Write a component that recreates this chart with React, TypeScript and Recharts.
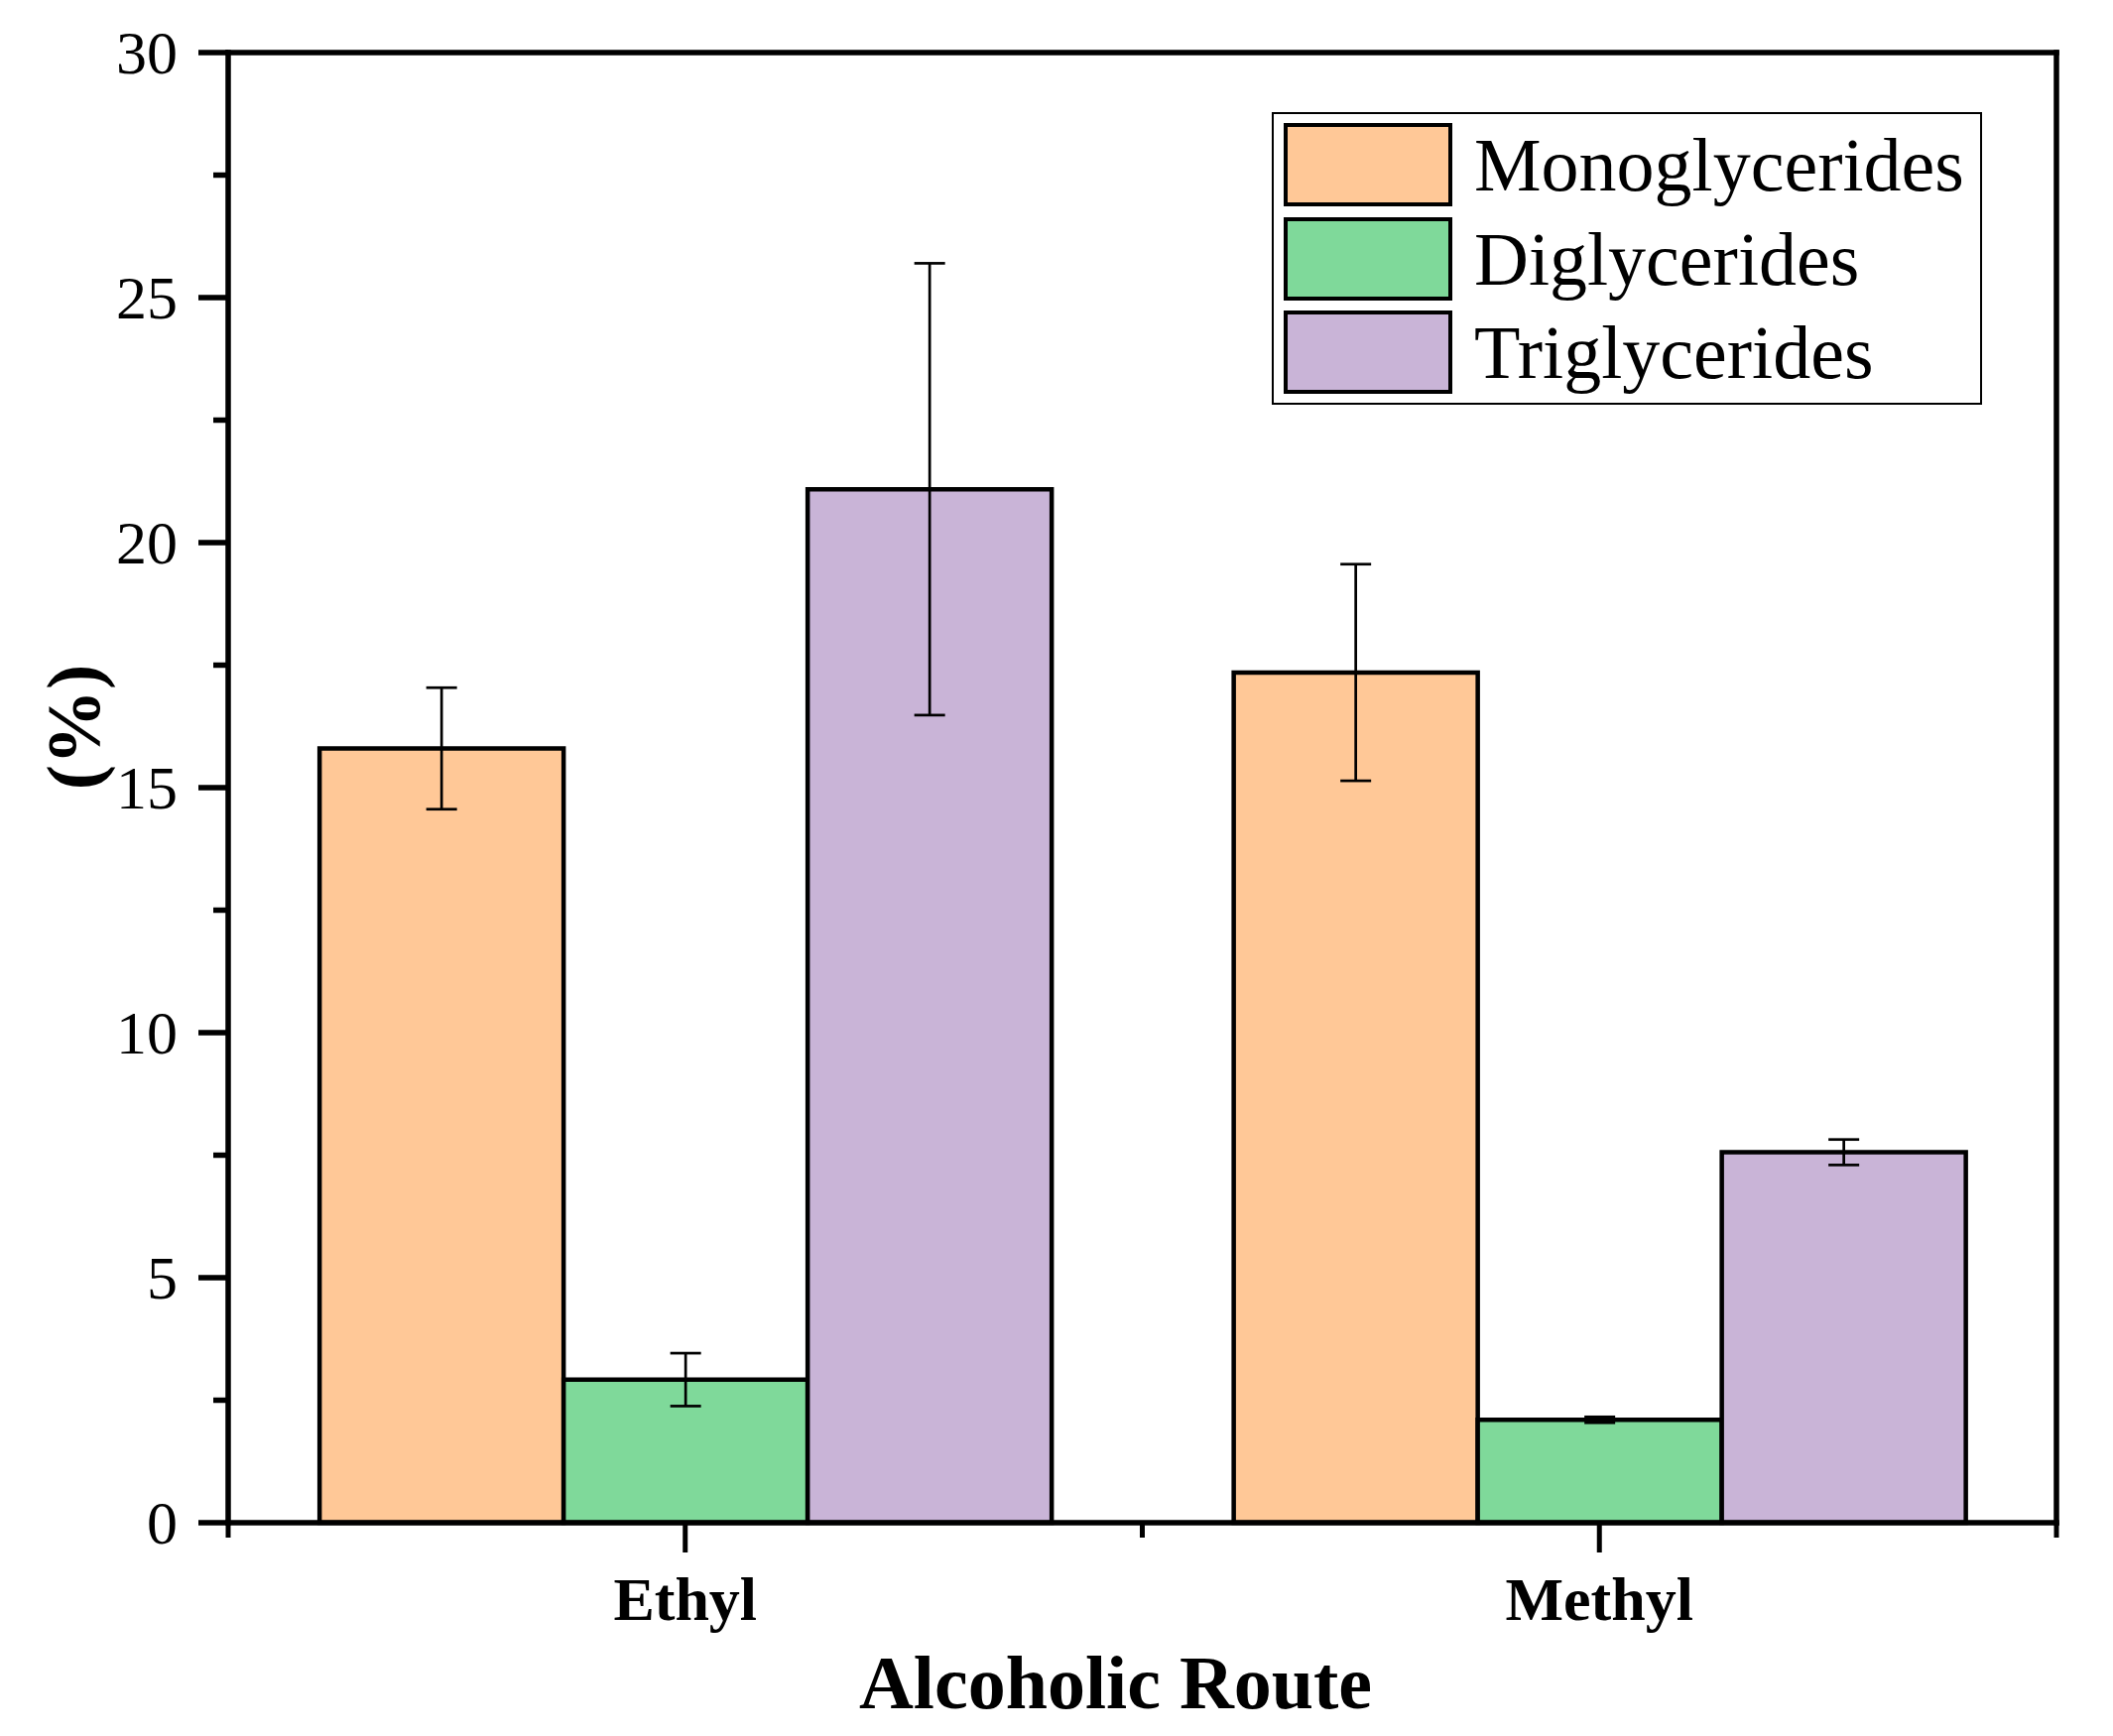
import React from 'react'
import { BarChart, Bar, XAxis, YAxis, ErrorBar, Legend } from 'recharts'

// values (percent)
const routes = ['Ethyl', 'Methyl']
const seriesNames = ['Monoglycerides', 'Diglycerides', 'Triglycerides']
const mono = [15.8, 17.35]
const monoErr = [1.24, 2.21]
const di = [2.92, 2.1]
const diErr = [0.54, 0.06]
const tri = [21.09, 7.56]
const triErr = [4.61, 0.26]

const leftTicks = [0, 2.5, 5, 7.5, 10, 12.5, 15, 17.5, 20, 22.5, 25, 27.5, 30]
const rightTicks = [0, 3, 6, 9, 12, 15, 18, 21, 24, 27, 30]

const FONT = '"Liberation Serif", "Times New Roman", Times, serif'
const AXIS = { stroke: '#000', strokeWidth: 5.5, strokeLinecap: 'square' as const }

const data = routes.map((route, i) => ({
  route,
  mono: mono[i],
  monoErr: monoErr[i],
  di: di[i],
  diErr: diErr[i],
  tri: tri[i],
  triErr: triErr[i],
}))

function XTick(props: any) {
  const { x, y, payload } = props
  const half = payload && payload.offset ? payload.offset : 0
  return (
    <g>
      <line x1={x} x2={x} y1={y} y2={y + 30} stroke="#000" strokeWidth={5} />
      {half > 0 && (
        <>
          <line x1={x - half} x2={x - half} y1={y} y2={y + 15} stroke="#000" strokeWidth={5} />
          <line x1={x + half} x2={x + half} y1={y} y2={y + 15} stroke="#000" strokeWidth={5} />
        </>
      )}
      <text x={x} y={y + 98} textAnchor="middle" fontFamily={FONT} fontWeight="bold" fontSize={62} fill="#000">
        {payload.value}
      </text>
    </g>
  )
}

function LeftTick(props: any) {
  const { x, y, payload } = props
  const major = payload.value % 5 === 0
  return (
    <g>
      <line x1={x - (major ? 30 : 15)} x2={x} y1={y} y2={y} stroke="#000" strokeWidth={5.5} />
      {major && (
        <text x={x - 51} y={y} textAnchor="end" dominantBaseline="central" fontFamily={FONT} fontSize={62} fill="#000">
          {payload.value}
        </text>
      )}
    </g>
  )
}

function RightTick(props: any) {
  const { x, y, payload } = props
  const major = payload.value % 6 === 0
  return <line x1={x - (major ? 29 : 15)} x2={x} y1={y} y2={y} stroke="#000" strokeWidth={5.5} />
}

function XTitle(props: any) {
  const vb = props.viewBox
  return (
    <text x={vb.x + vb.width / 2 - 27} y={vb.y + vb.height - 28} textAnchor="middle" fontFamily={FONT} fontWeight="bold" fontSize={76} fill="#000">
      Alcoholic Route
    </text>
  )
}

function YTitle(props: any) {
  const vb = props.viewBox
  const cx = vb.x + 74
  const cy = vb.y + vb.height / 2 - 61
  return (
    <text x={cx} y={cy} transform={`rotate(-90 ${cx} ${cy})`} textAnchor="middle" dominantBaseline="central" fontFamily={FONT} fontWeight="bold" fontSize={76} fill="#000">
      (%)
    </text>
  )
}

function LegendBox(props: any) {
  const items = [...(props.payload || [])].sort(
    (a: any, b: any) => seriesNames.indexOf(a.value) - seriesNames.indexOf(b.value)
  )
  return (
    <div
      style={{
        boxSizing: 'border-box',
        width: 716,
        height: 295,
        border: '2px solid #000',
        background: '#fff',
        padding: '9px 10px',
        fontFamily: FONT,
      }}
    >
      {items.map((item: any, i: number) => (
        <div key={item.value} style={{ display: 'flex', alignItems: 'center', height: 84, marginTop: i ? 10.5 : 0 }}>
          <div
            style={{
              boxSizing: 'border-box',
              width: 170,
              height: 84,
              background: item.color || (item.payload && item.payload.fill),
              border: '4px solid #000',
            }}
          />
          <span style={{ marginLeft: 22, fontSize: 76, lineHeight: 1, color: '#000' }}>{item.value}</span>
        </div>
      ))}
    </div>
  )
}

export default function App() {
  return (
    <div style={{ position: 'absolute', left: 0, top: 0, width: 2130, height: 1750, background: '#fff' }}>
      <BarChart
        width={2130}
        height={1750}
        data={data}
        margin={{ top: 0, right: 0, bottom: 0, left: 0 }}
        barCategoryGap="10%"
        barGap={0}
      >
        <XAxis
          dataKey="route"
          height={215}
          interval={0}
          tickSize={0}
          tickMargin={0}
          tickLine={false}
          axisLine={AXIS}
          tick={(p: any) => <XTick {...p} />}
          label={{ content: (p: any) => <XTitle {...p} /> }}
        />
        <XAxis xAxisId="top" orientation="top" dataKey="route" height={53} tick={false} tickLine={false} axisLine={AXIS} />
        <YAxis
          width={230}
          domain={[0, 30]}
          ticks={leftTicks}
          interval={0}
          tickSize={0}
          tickMargin={0}
          tickLine={false}
          axisLine={AXIS}
          tick={(p: any) => <LeftTick {...p} />}
          label={{ content: (p: any) => <YTitle {...p} /> }}
        />
        <YAxis
          yAxisId="right"
          orientation="right"
          width={57}
          domain={[0, 30]}
          ticks={rightTicks}
          interval={0}
          tickSize={0}
          tickMargin={0}
          tickLine={false}
          axisLine={AXIS}
          tick={(p: any) => <RightTick {...p} />}
        />
        <Legend
          layout="vertical"
          align="center"
          verticalAlign="middle"
          wrapperStyle={{ left: 1282, top: 113, width: 716, height: 295 }}
          content={(p: any) => <LegendBox {...p} />}
        />
        <Bar dataKey="mono" name={seriesNames[0]} fill="#FFC897" stroke="#000" strokeWidth={4.5} isAnimationActive={false}>
          <ErrorBar dataKey="monoErr" width={15.5} stroke="#000" strokeWidth={2.7} direction="y" isAnimationActive={false} />
        </Bar>
        <Bar dataKey="di" name={seriesNames[1]} fill="#7FD99A" stroke="#000" strokeWidth={4.5} isAnimationActive={false}>
          <ErrorBar dataKey="diErr" width={15.5} stroke="#000" strokeWidth={2.7} direction="y" isAnimationActive={false} />
        </Bar>
        <Bar dataKey="tri" name={seriesNames[2]} fill="#C9B4D7" stroke="#000" strokeWidth={4.5} isAnimationActive={false}>
          <ErrorBar dataKey="triErr" width={15.5} stroke="#000" strokeWidth={2.7} direction="y" isAnimationActive={false} />
        </Bar>
      </BarChart>
    </div>
  )
}
